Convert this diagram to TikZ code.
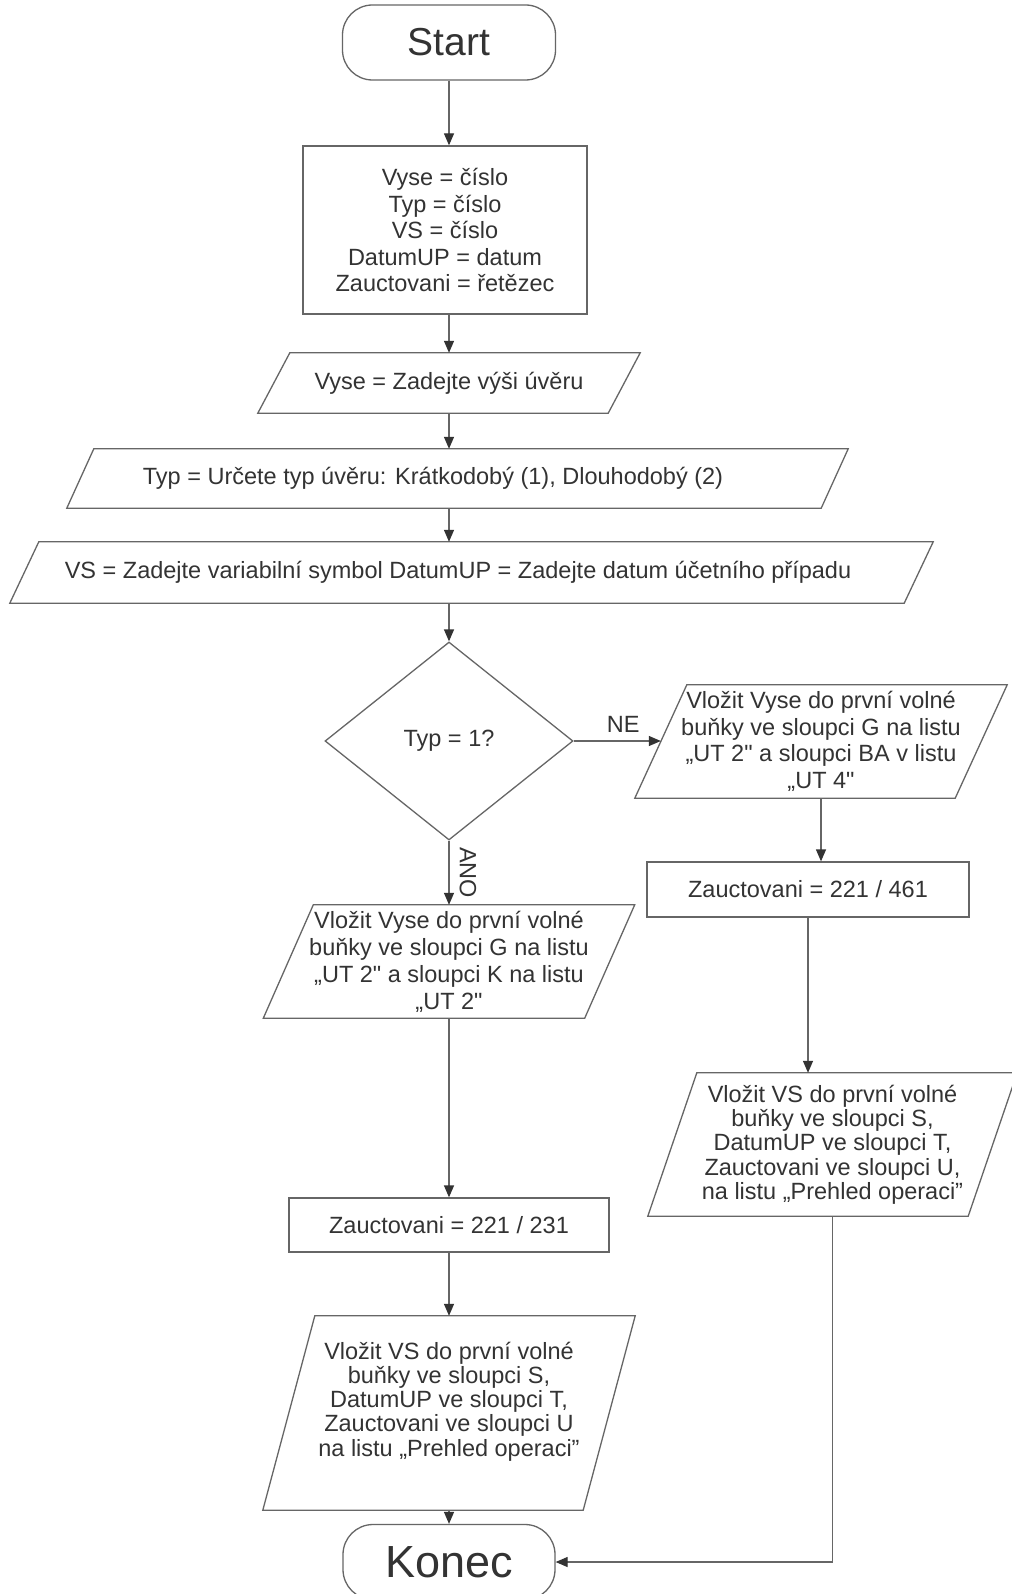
\documentclass[tikz,border=0pt]{standalone}
\usepackage{fontspec}
\setmainfont{Liberation Sans}[Ligatures=TeXOff]
\usetikzlibrary{arrows.meta,shapes.geometric}
\definecolor{inkgray}{HTML}{333333}
\definecolor{linegray}{HTML}{666666}
\newcommand\bodysize{\fontsize{23.5pt}{26.5pt}\selectfont}
\newcommand\tightsize{\fontsize{23.5pt}{24.3pt}\selectfont}
\newcommand\termsize{\fontsize{39pt}{42pt}\selectfont}
% slanted frame round an ionode: node name, half of the slant
\newcommand\ioframe[2]{%
  \draw[frameline] ([xshift=#2]#1.north west) -- ([xshift=#2]#1.north east)
    -- ([xshift=-#2]#1.south east) -- ([xshift=-#2]#1.south west) -- cycle;}
\tikzset{
  frameline/.style={draw=linegray,line width=1.3pt},
  termnode/.style={frameline,rectangle,rounded corners=30pt,minimum width=213pt,minimum height=75pt,font=\termsize,text=inkgray},
  procnode/.style={frameline,rectangle,inner sep=4pt,align=center,font=\bodysize,text=inkgray},
  ionode/.style={rectangle,inner sep=2pt,align=center,font=\bodysize,text=inkgray},
  decnode/.style={frameline,diamond,inner sep=0pt,minimum width=248pt,minimum height=198pt,font=\bodysize,text=inkgray},
  flowarrow/.style={draw=linegray,line width=1.3pt,-{Triangle[length=12pt,width=10pt,color=inkgray]}},
  edgelabel/.style={font=\bodysize,text=inkgray,inner sep=8pt},
}
\begin{document}
\begin{tikzpicture}[x=1pt,y=-1pt]
  \path[use as bounding box,fill=white] (0,0) rectangle (1011,1594);
  % main column
  \node[termnode] (start) at (449,42.5) {Start};
  \node[procnode,minimum width=284pt,minimum height=168pt] (decl) at (445,230) {Vyse = číslo\\Typ = číslo\\VS = číslo\\DatumUP = datum\\Zauctovani = řetězec};
  \node[ionode,minimum width=350pt,minimum height=60pt] (vyse) at (449,383) {Vyse = Zadejte výši úvěru};
  \node[ionode,minimum width=754pt,minimum height=59pt] (typ) at (457.5,478.5) {Typ = Určete typ úvěru: Krátkodobý (1), Dlouhodobý (2)\hspace{49pt}\mbox{}};
  \node[ionode,minimum width=894pt,minimum height=61pt] (vs) at (471.5,572.5) {VS = Zadejte variabilní symbol DatumUP = Zadejte datum účetního případu\hspace{27pt}\mbox{}};
  \node[decnode] (typ1) at (449,741) {Typ = 1?};
  % branch NE
  \node[ionode,minimum width=320pt,minimum height=113pt] (ne1) at (821,741.5) {Vložit Vyse do první volné\\buňky ve sloupci G na listu\\„UT 2" a sloupci BA v listu\\„UT 4"};
  \node[procnode,minimum width=322pt,minimum height=55pt] (zauct2) at (808,889.5) {Zauctovani = 221 / 461};
  \node[ionode,font=\tightsize,minimum width=320pt,minimum height=143pt] (vsne) at (832.5,1144.5) {Vložit VS do první volné\\buňky ve sloupci S,\\DatumUP ve sloupci T,\\Zauctovani ve sloupci U,\\na listu „Prehled operaci”};
  % branch ANO
  \node[ionode,font=\fontsize{23.5pt}{27pt}\selectfont,minimum width=321pt,minimum height=113pt] (ano1) at (449,961.5) {Vložit Vyse do první volné\\buňky ve sloupci G na listu\\„UT 2" a sloupci K na listu\\„UT 2"};
  \node[procnode,minimum width=320pt,minimum height=54pt] (zauct1) at (449,1225) {Zauctovani = 221 / 231};
  \node[ionode,font=\tightsize,minimum width=320pt,minimum height=194pt] (vsano) at (449,1413) {Vložit VS do první volné\\buňky ve sloupci S,\\DatumUP ve sloupci T,\\Zauctovani ve sloupci U\\na listu „Prehled operaci”\rule[-28pt]{0pt}{28pt}};
  \node[termnode,minimum width=212pt,font=\fontsize{45pt}{48pt}\selectfont] (konec) at (449,1562) {Konec};
  % slanted frames
  \ioframe{vyse}{16pt}
  \ioframe{typ}{13.5pt}
  \ioframe{vs}{14.5pt}
  \ioframe{ne1}{26pt}
  \ioframe{vsne}{24.5pt}
  \ioframe{ano1}{25pt}
  \ioframe{vsano}{26pt}
  % connectors
  \draw[flowarrow] (start.south) -- (start.south |- decl.north);
  \draw[flowarrow] (start |- decl.south) -- (start |- vyse.north);
  \draw[flowarrow] (start |- vyse.south) -- (start |- typ.north);
  \draw[flowarrow] (start |- typ.south) -- (start |- vs.north);
  \draw[flowarrow] (start |- vs.south) -- (typ1.north);
  \draw[flowarrow] (typ1.east) -- (typ1.east -| ne1.west) node[midway,above,edgelabel,xshift=6pt] (lne) {NE};
  \draw[flowarrow] (typ1.south) -- (ano1.north) node[midway,rotate=-90,anchor=south,edgelabel,inner sep=10pt] (lano) {ANO};
  \draw[flowarrow] (ne1.south) -- (ne1.south |- zauct2.north);
  \draw[flowarrow] (zauct2.south) -- (zauct2.south |- vsne.north);
  \draw[flowarrow] (vsne.south) |- (konec.east);
  \draw[flowarrow] (ano1.south) -- (zauct1.north);
  \draw[flowarrow] (zauct1.south) -- (vsano.north);
  \draw[flowarrow] (vsano.south) -- (konec.north);
\end{tikzpicture}
\end{document}
